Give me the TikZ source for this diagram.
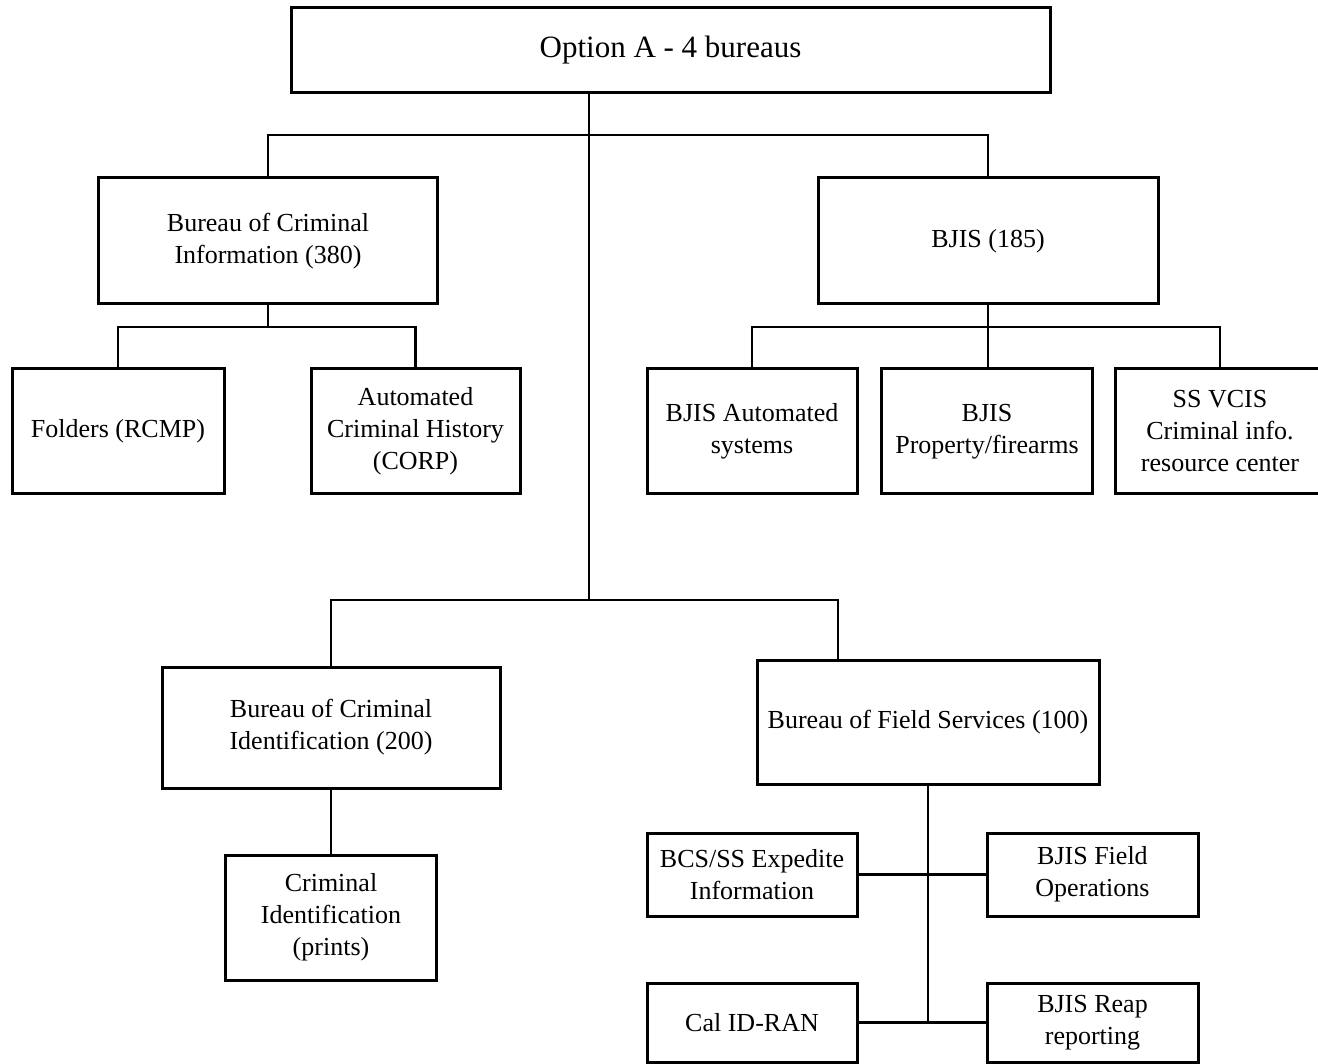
\documentclass[tikz,border=0pt]{standalone}
\usepackage{fontspec}
\setmainfont{Liberation Serif}
\begin{document}
\begin{tikzpicture}[x=1pt,y=-1pt,
  box/.style={draw, line width=3pt, rectangle, align=center, inner sep=0pt,
    font=\fontsize{26}{32}\selectfont},
  conn/.style={line width=2.6pt}]
\useasboundingbox[fill=white] (0,0) rectangle (1318,1064);
% nodes
\node[box, minimum width=759pt, minimum height=85pt, font=\fontsize{31}{36}\selectfont] (top) at (670.5,50.5) {Option A - 4 bureaus};
\node[box, minimum width=339pt, minimum height=126pt] (bci) at (268,241) {Bureau of Criminal\\Information (380)};
\node[box, minimum width=340pt, minimum height=126pt] (bjis) at (988,241) {BJIS (185)};
\node[box, minimum width=212pt, minimum height=125pt] (fold) at (118,431.5) {Folders (RCMP)};
\node[box, minimum width=209pt, minimum height=125pt] (ach) at (415.5,431.5) {Automated\\Criminal History\\(CORP)};
\node[box, minimum width=210pt, minimum height=125pt] (bas) at (752,431.5) {BJIS Automated\\systems};
\node[box, minimum width=211pt, minimum height=125pt] (bpf) at (987,431.5) {BJIS\\Property/firearms};
\node[box, minimum width=210pt, minimum height=125pt] (vcis) at (1220,431.5) {SS VCIS\\Criminal info.\\resource center};
\node[box, minimum width=338pt, minimum height=121pt] (bcid) at (331,727.5) {Bureau of Criminal\\Identification (200)};
\node[box, minimum width=342pt, minimum height=124pt] (bfs) at (928,722) {Bureau of Field Services (100)};
\node[box, minimum width=211pt, minimum height=125pt] (cip) at (331,917.5) {Criminal\\Identification\\(prints)};
\node[box, minimum width=210pt, minimum height=83pt] (bcs) at (752,874.5) {BCS/SS Expedite\\Information};
\node[box, minimum width=211pt, minimum height=83pt] (bfo) at (1092.5,874.5) {BJIS Field\\Operations};
\node[box, minimum width=210pt, minimum height=79pt] (cal) at (752,1022.5) {Cal ID-RAN};
\node[box, minimum width=211pt, minimum height=79pt] (reap) at (1092.5,1022.5) {BJIS Reap\\reporting};
% helper coordinates
\coordinate (trunk) at (589,600);
\coordinate (j1) at (589,135);
\coordinate (y327) at (0,327);
\coordinate (x838) at (838,0);
% connectors
\draw[conn] (top.south -| trunk) -- (trunk);
\draw[conn] (bci.north) |- (j1) -| (bjis.north);
\draw[conn] (bci.south) -- (bci.south |- y327);
\draw[conn] (fold.north) |- (bci.south |- y327) -| (ach.north);
\draw[conn] (bjis.south) -- (bjis.south |- y327);
\draw[conn] (bas.north) |- (bjis.south |- y327) -| (vcis.north);
\draw[conn] (bjis.south |- y327) -- (bjis.south |- bpf.north);
\draw[conn] (bcid.north) |- (trunk) -| (x838 |- bfs.north);
\draw[conn] (bcid.south) -- (cip.north);
\draw[conn] (bfs.south) -- (bfs.south |- cal.east);
\draw[conn] (bcs.east) -- (bfo.west);
\draw[conn] (cal.east) -- (reap.west);
\end{tikzpicture}
\end{document}
